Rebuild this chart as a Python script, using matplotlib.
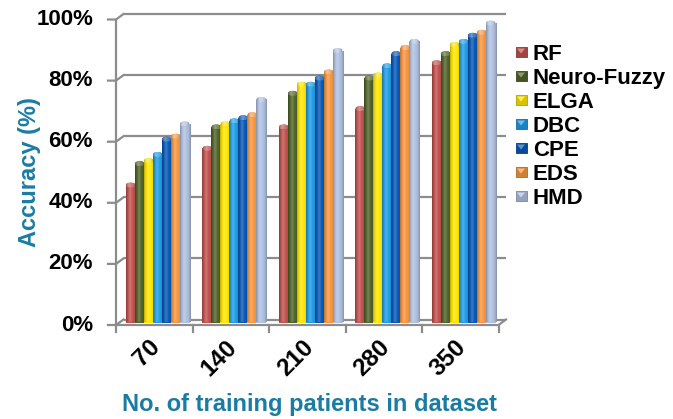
import numpy as np
import matplotlib
matplotlib.use("Agg")
import matplotlib.pyplot as plt
from matplotlib.patches import Rectangle, Ellipse, Polygon
from matplotlib.colors import to_rgb

# ---- data -------------------------------------------------------------
categories = ["70", "140", "210", "280", "350"]
series_names = ["RF", "Neuro-Fuzzy", "ELGA", "DBC", "CPE", "EDS", "HMD"]
rf = [45, 57, 64, 70, 85]
neuro_fuzzy = [52, 64, 75, 80, 88]
elga = [53, 65, 78, 81, 91]
dbc = [55, 66, 78, 84, 92]
cpe = [60, 67, 80, 88, 94]
eds = [61, 68, 82, 90, 95]
hmd = [65, 73, 89, 92, 98]
y_ticks = [0, 20, 40, 60, 80, 100]
y_tick_labels = ["0%", "20%", "40%", "60%", "80%", "100%"]
series_colors = ["#C0504D", "#4F6228", "#FFE600", "#1E9BE6",
                 "#0757B5", "#F7963F", "#AFC0E0"]

series_values = [rf, neuro_fuzzy, elga, dbc, cpe, eds, hmd]

plt.rcParams["font.family"] = ["Liberation Sans", "DejaVu Sans"]
plt.rcParams["font.weight"] = "bold"

W, H = 673, 419
fig = plt.figure(figsize=(W / 100, H / 100), dpi=100)

# plotting plane (pixels): left, top, width, height
ax_left, ax_top, ax_w, ax_h = 119.5, 17.0, 382.5, 305.5
ax = fig.add_axes([ax_left / W, (H - ax_top - ax_h) / H, ax_w / W, ax_h / H])
ax.set_xlim(0, len(categories))
ax.set_ylim(0, 100)
ax.set_autoscale_on(False)
ax.axis("off")

kx = len(categories) / ax_w      # data units per pixel (x)
ky = 100 / ax_h                  # data units per pixel (y)
FRONT = (-3.5, -2.5)             # pixel offset of the front edge
BACK = (4.0, 3.0)                # pixel offset of the back wall


def shift(x, y, d):
    return x + d[0] * kx, y + d[1] * ky


grid_c = "#8C8C8C"
lw = 1.6
ncat = len(categories)

# back wall gridlines, connectors and front axis ticks
for v in y_ticks:
    (bx0, by0), (bx1, by1) = shift(0, v, BACK), shift(ncat, v, BACK)
    ax.plot([bx0, bx1], [by0, by1], color=grid_c, lw=lw, clip_on=False,
            solid_capstyle="butt", zorder=1)
    fx, fy = shift(0, v, FRONT)
    ax.plot([fx - 8 * kx, fx, bx0], [fy, fy, by0], color=grid_c, lw=lw,
            clip_on=False, zorder=1)

# front vertical axis
(fx0, fy0), (fx1, fy1) = shift(0, 0, FRONT), shift(0, 100, FRONT)
ax.plot([fx0, fx1], [fy0, fy1], color=grid_c, lw=lw, clip_on=False, zorder=1)

# floor: front edge, right side and category ticks
(ex, ey) = shift(ncat, 0, FRONT)
(rx, ry) = shift(ncat, 0, BACK)
ax.plot([fx0, ex, rx], [fy0, ey, ry], color=grid_c, lw=lw, clip_on=False,
        zorder=1)
for k in range(ncat + 1):
    tx, ty = shift(k, 0, FRONT)
    ax.plot([tx, tx], [ty, ty - 7 * ky], color=grid_c, lw=lw, clip_on=False,
            zorder=1)


# cylinder shading across a bar
def shade_row(color, n=64, lighten=0.0):
    base = np.array(to_rgb(color))
    base = base + (1 - base) * lighten
    t = np.linspace(0, 1, n)
    body = 0.74 + 0.26 * (1 - np.abs(2 * t - 1) ** 3)
    spec = 0.20 * np.exp(-((t - 0.38) / 0.16) ** 2)
    rgb = base[None, :] * body[:, None]
    rgb = rgb + (1 - rgb) * spec[:, None]
    return np.clip(rgb, 0, 1)[None, :, :]


nser = len(series_names)
bar_w = 9 * kx
group_w = bar_w * nser
cap_h = 5 * ky
pad = 0.6 * kx   # slight overlap so neighbouring cylinders leave no seam

for s, (vals, col) in enumerate(zip(series_values, series_colors)):
    xs = np.arange(ncat) + 0.5 - group_w / 2 + s * bar_w
    bars = ax.bar(xs - pad, vals, width=bar_w + 2 * pad, align="edge",
                  color=col, linewidth=0, antialiased=False,
                  zorder=2 + s * 0.1)
    for b, v in zip(bars, vals):
        x0 = b.get_x() + pad
        im = ax.imshow(shade_row(col),
                       extent=[x0 - pad, x0 + bar_w + pad, 0, v],
                       aspect="auto", interpolation="bilinear",
                       zorder=2.05 + s * 0.1)
        im.set_clip_path(b)
        cap = Ellipse((x0 + bar_w / 2, v), bar_w + pad, cap_h, facecolor=col,
                      edgecolor="none", zorder=2.06 + s * 0.1)
        ax.add_patch(cap)
        im2 = ax.imshow(shade_row(col, lighten=0.25),
                        extent=[x0, x0 + bar_w, v - cap_h / 2, v + cap_h / 2],
                        aspect="auto", interpolation="bilinear",
                        zorder=2.07 + s * 0.1)
        im2.set_clip_path(cap)

# y tick labels
for v, lab in zip(y_ticks, y_tick_labels):
    ax.text((93 - ax_left) * kx, v + FRONT[1] * ky, lab, ha="right",
            va="center", fontsize=16, fontweight="bold", color="black",
            clip_on=False)

# x tick labels
for i, lab in enumerate(categories):
    ax.text(i + 0.5 - 1.0 * kx, -21.0 * ky, lab, rotation=45,
            rotation_mode="anchor", ha="right", va="center",
            fontsize=17.5, fontweight="bold", color="black", clip_on=False)

title_c = "#1B7CA3"
fig.text(30 / W, 1 - 172 / H, "Accuracy (%)", rotation=90, ha="center",
         va="center", fontsize=17, fontweight="bold", color=title_c)
fig.text(309 / W, 1 - 404 / H, "No. of training patients in dataset",
         ha="center", va="center", fontsize=17, fontweight="bold",
         color=title_c)

# legend drawn in pixel space
ov = fig.add_axes([0, 0, 1, 1])
ov.set_xlim(0, W)
ov.set_ylim(H, 0)
ov.axis("off")
for i, (name, col) in enumerate(zip(series_names, series_colors)):
    cy = 52 + 24 * i
    base = np.array(to_rgb(col))
    ov.add_patch(Rectangle((515.5, cy - 5), 11, 10, facecolor=base * 0.85,
                           edgecolor=base * 0.7, lw=0.6))
    ov.add_patch(Polygon([[517, cy - 3.5], [525, cy - 3.5], [521, cy + 1.5]],
                         closed=True, facecolor=base + (1 - base) * 0.35,
                         edgecolor="none"))
    ov.text(533, cy + 8, name, ha="left", va="baseline", fontsize=16,
            fontweight="bold", color="black")

fig.savefig("out.png", dpi=100)
